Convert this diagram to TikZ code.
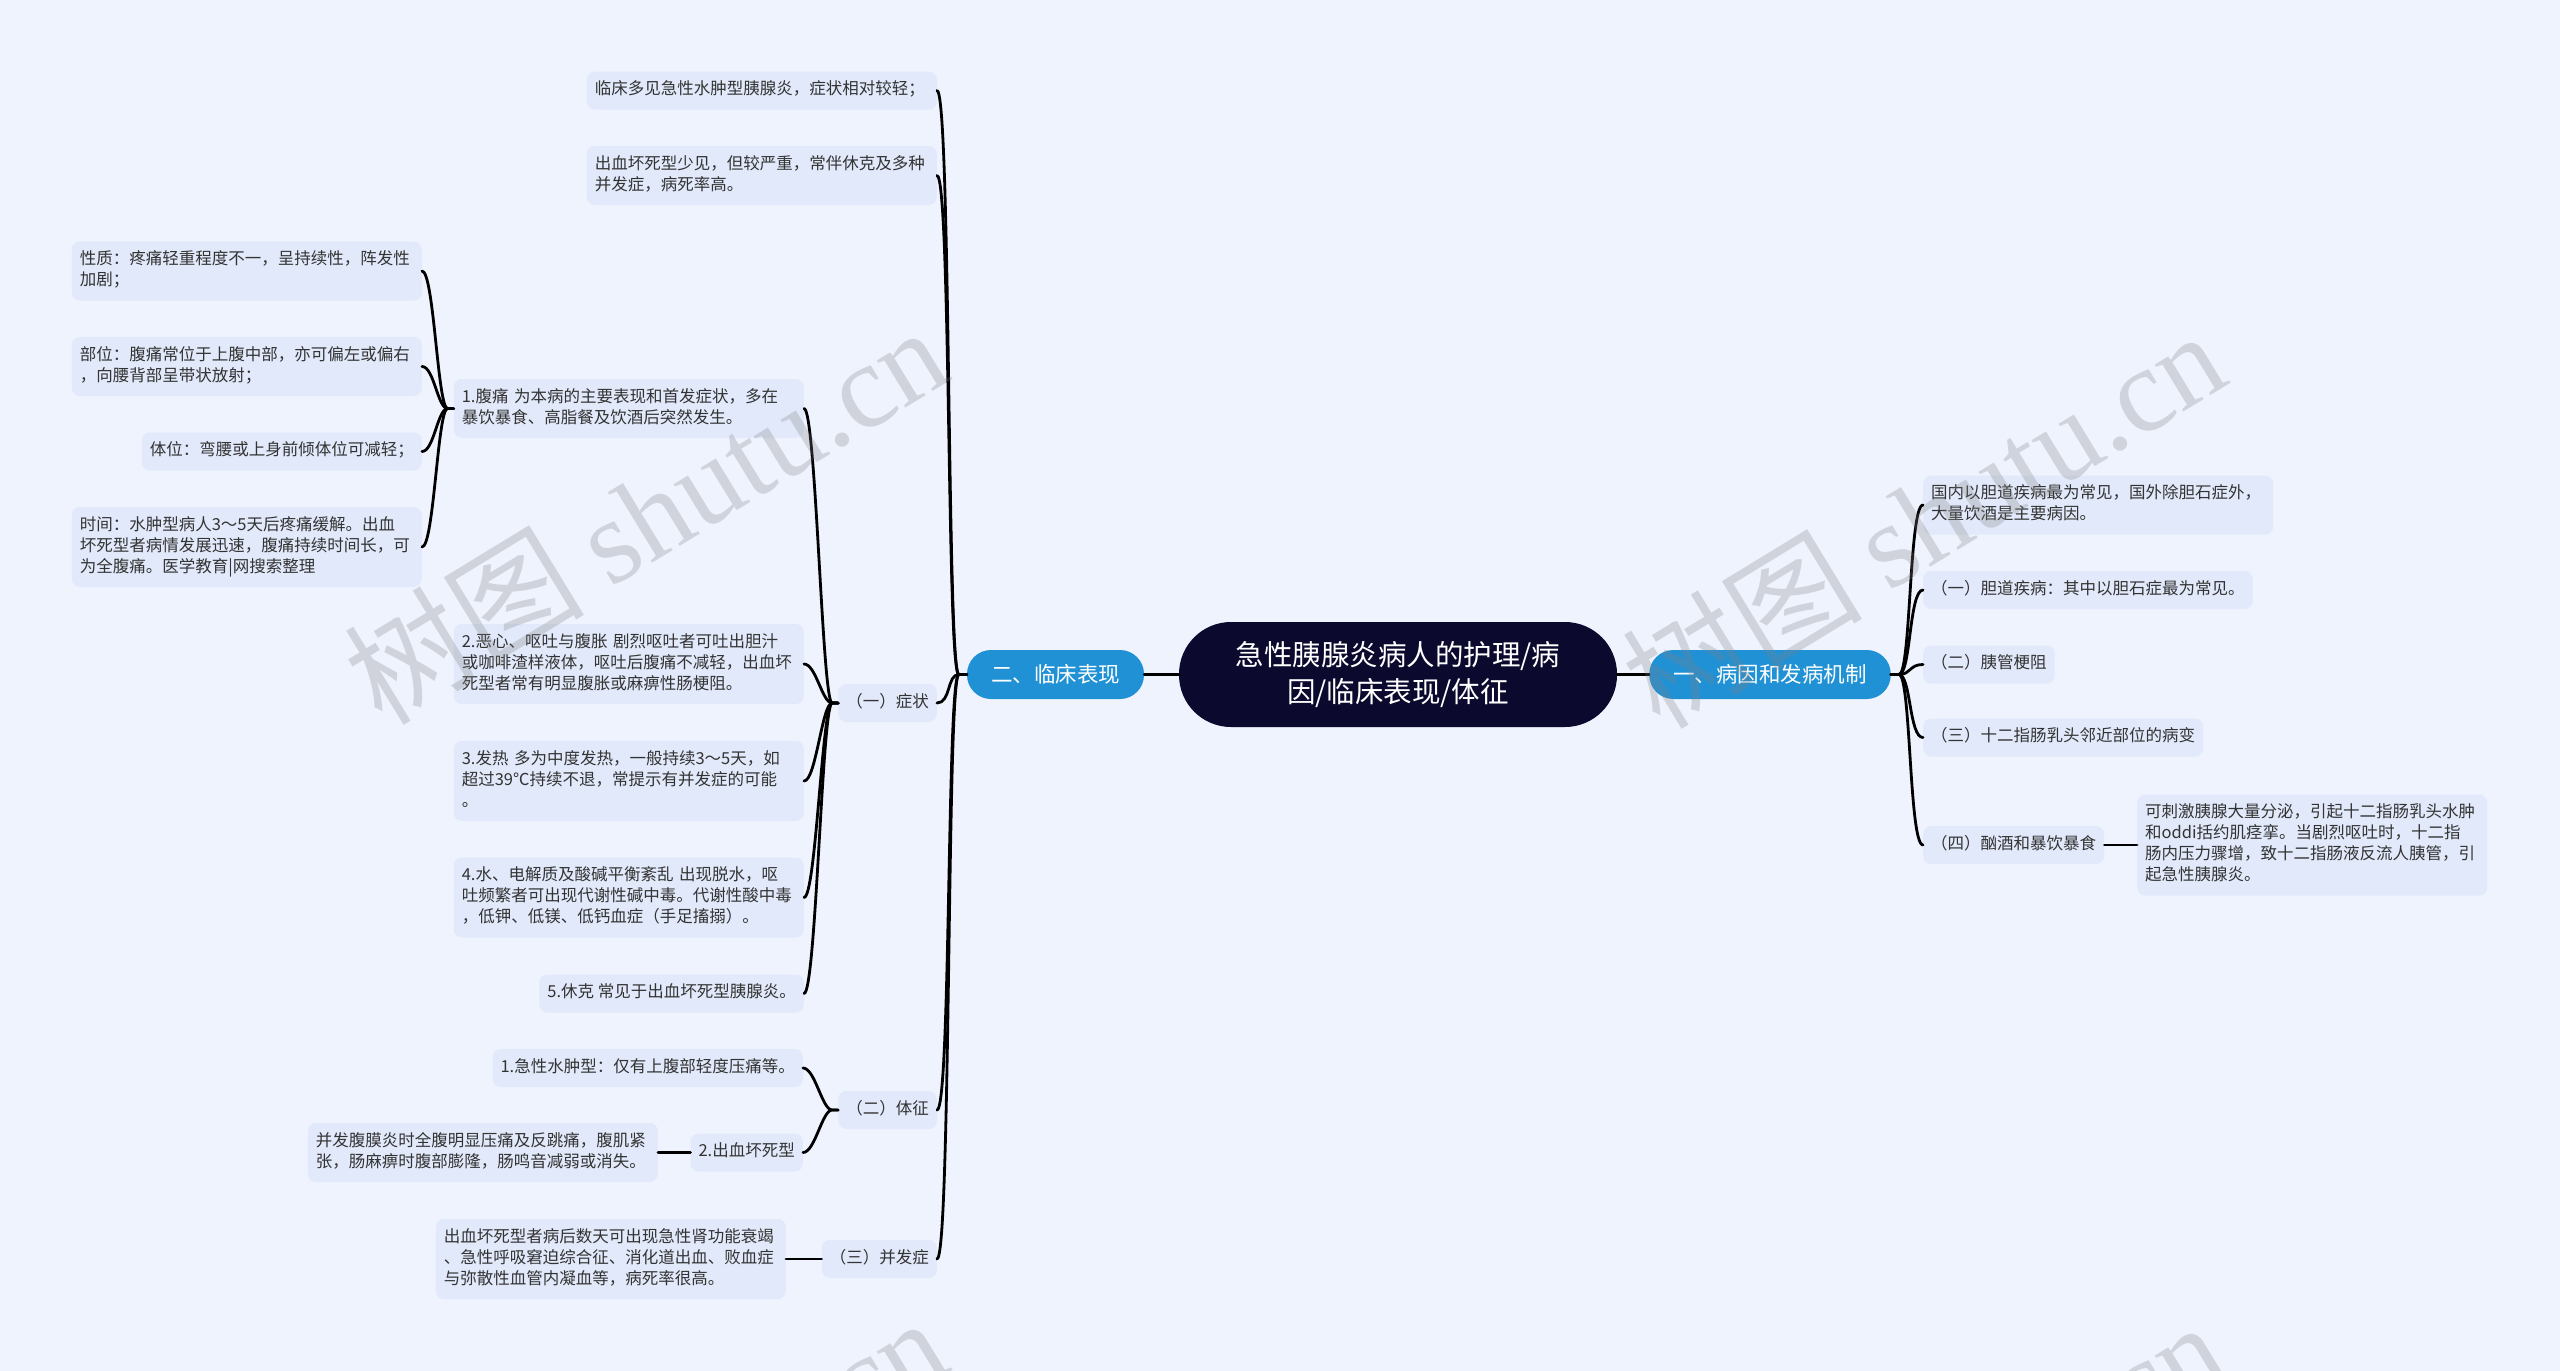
\documentclass[tikz,border=0pt]{standalone}
\usepackage{fontspec}
\setmainfont{Noto Sans CJK SC}
\newfontfamily\wmlatin{Liberation Serif}
\definecolor{bgC}{HTML}{EEF3FE}
\definecolor{leafC}{HTML}{E1E9FA}
\definecolor{rootC}{HTML}{0B0A2E}
\definecolor{mainC}{HTML}{2091D4}
\definecolor{textC}{HTML}{333333}
\begin{document}
\begin{tikzpicture}[x=1pt,y=-1pt,
  leaf/.style={fill=leafC, rounded corners=8pt, inner xsep=8pt, inner ysep=8.5pt, text=textC, align=left,
    font=\fontsize{16.5}{21}\selectfont, execute at begin node=\strut, execute at end node=\strut},
  leafw/.style={leaf, text width=334pt},
  main/.style={fill=mainC, text=white, rounded corners=24pt, inner xsep=24pt, minimum height=49pt,
    font=\fontsize{21.5}{26}\selectfont},
  root/.style={fill=rootC, text=white, rounded corners=52pt, minimum width=438pt, minimum height=105pt,
    align=center, font=\fontsize{28.5}{37}\selectfont},
  link/.style={line width=2.8pt, draw=black, line cap=round},
  wm/.style={rotate=31.4, text=gray, text opacity=0.27, font=\fontsize{120}{120}\selectfont}]
  \fill[bgC] (0,0) rectangle (2560,1371);
  \useasboundingbox (0,0) rectangle (2560,1371);

  \node[root] (root) at (1398,674.5) {急性胰腺炎病人的护理/病\\因/临床表现/体征};
  \node[main] (one) at (1770,674.5) {一、病因和发病机制};
  \node[main] (two) at (1055.5,674.5) {二、临床表现};

  % 一
  \node[leafw, anchor=west] (n1a) at (1923,505) {国内以胆道疾病最为常见，国外除胆石症外，\\大量饮酒是主要病因。};
  \node[leaf, anchor=west] (n1b) at (1923,590) {（一）胆道疾病：其中以胆石症最为常见。};
  \node[leaf, anchor=west] (n1c) at (1923,664.5) {（二）胰管梗阻};
  \node[leaf, anchor=west] (n1d) at (1923,737.5) {（三）十二指肠乳头邻近部位的病变};
  \node[leaf, anchor=west] (n1e) at (1923,845) {（四）酗酒和暴饮暴食};
  \node[leafw, anchor=west] (n1f) at (2137,845) {可刺激胰腺大量分泌，引起十二指肠乳头水肿\\和oddi括约肌痉挛。当剧烈呕吐时，十二指\\肠内压力骤增，致十二指肠液反流人胰管，引\\起急性胰腺炎。};

  % 二
  \node[leafw, anchor=east] (n2a) at (937,90.5) {临床多见急性水肿型胰腺炎，症状相对较轻；};
  \node[leafw, anchor=east] (n2b) at (937,175.5) {出血坏死型少见，但较严重，常伴休克及多种\\并发症，病死率高。};
  \node[leaf, anchor=east] (sym) at (937,703) {（一）症状};
  \node[leaf, anchor=east] (sign) at (937,1110) {（二）体征};
  \node[leaf, anchor=east] (comp) at (937,1259) {（三）并发症};

  \node[leafw, anchor=east] (s1) at (804,408.5) {1.腹痛 为本病的主要表现和首发症状，多在\\暴饮暴食、高脂餐及饮酒后突然发生。};
  \node[leafw, anchor=east] (s2) at (804,664) {2.恶心、呕吐与腹胀 剧烈呕吐者可吐出胆汁\\或咖啡渣样液体，呕吐后腹痛不减轻，出血坏\\死型者常有明显腹胀或麻痹性肠梗阻。};
  \node[leafw, anchor=east] (s3) at (804,781) {3.发热 多为中度发热，一般持续3～5天，如\\超过39℃持续不退，常提示有并发症的可能\\。};
  \node[leafw, anchor=east] (s4) at (804,897.5) {4.水、电解质及酸碱平衡紊乱 出现脱水，呕\\吐频繁者可出现代谢性碱中毒。代谢性酸中毒\\，低钾、低镁、低钙血症（手足搐搦）。};
  \node[leaf, anchor=east] (s5) at (804,993.5) {5.休克 常见于出血坏死型胰腺炎。};

  \node[leafw, anchor=east] (p1) at (422,271) {性质：疼痛轻重程度不一，呈持续性，阵发性\\加剧；};
  \node[leafw, anchor=east] (p2) at (422,366.5) {部位：腹痛常位于上腹中部，亦可偏左或偏右\\，向腰背部呈带状放射；};
  \node[leaf, anchor=east] (p3) at (422,451.5) {体位：弯腰或上身前倾体位可减轻；};
  \node[leafw, anchor=east] (p4) at (422,547) {时间：水肿型病人3～5天后疼痛缓解。出血\\坏死型者病情发展迅速，腹痛持续时间长，可\\为全腹痛。医学教育|网搜索整理};

  \node[leaf, anchor=east] (g1) at (803,1068) {1.急性水肿型：仅有上腹部轻度压痛等。};
  \node[leaf, anchor=east] (g2) at (803,1152.5) {2.出血坏死型};
  \node[leafw, anchor=east] (g2d) at (658,1152.5) {并发腹膜炎时全腹明显压痛及反跳痛，腹肌紧\\张，肠麻痹时腹部膨隆，肠鸣音减弱或消失。};
  \node[leafw, anchor=east] (compd) at (786,1259) {出血坏死型者病后数天可出现急性肾功能衰竭\\、急性呼吸窘迫综合征、消化道出血、败血症\\与弥散性血管内凝血等，病死率很高。};

  \draw[link] (root.east) -- (one.west);
  \draw[link] (root.west) -- (two.east);
  \foreach \nd in {n1a,n1b,n1c,n1d,n1e}
    \draw[link] (one.east) -- ++(8,0) .. controls +(12,0) and +(-14,0) .. (\nd.west);
  \draw[link] (n1e.east) -- (n1f.west);
  \foreach \nd in {n2a,n2b,sym,sign,comp}
    \draw[link] (two.west) -- ++(-8,0) .. controls +(-12,0) and +(14,0) .. (\nd.east);
  \foreach \nd in {s1,s2,s3,s4,s5}
    \draw[link] (sym.west) -- ++(-6,0) .. controls +(-10,0) and +(12,0) .. (\nd.east);
  \foreach \nd in {p1,p2,p3,p4}
    \draw[link] (s1.west) -- ++(-6,0) .. controls +(-10,0) and +(12,0) .. (\nd.east);
  \foreach \nd in {g1,g2}
    \draw[link] (sign.west) -- ++(-6,0) .. controls +(-10,0) and +(12,0) .. (\nd.east);
  \draw[link] (g2.west) -- (g2d.east);
  \draw[link] (comp.west) -- (compd.east);

  \begin{scope}
    \clip (0,0) rectangle (2560,1371);
    \node[wm] (wm1) at (645,514) {树图 {\wmlatin shutu.cn}};
    \node[wm] (wm2) at (1923,518) {树图 {\wmlatin shutu.cn}};
    \node[wm] (wm3) at (645,1505) {树图 {\wmlatin shutu.cn}};
    \node[wm] (wm4) at (1923,1509) {树图 {\wmlatin shutu.cn}};
  \end{scope}
\end{tikzpicture}
\end{document}
